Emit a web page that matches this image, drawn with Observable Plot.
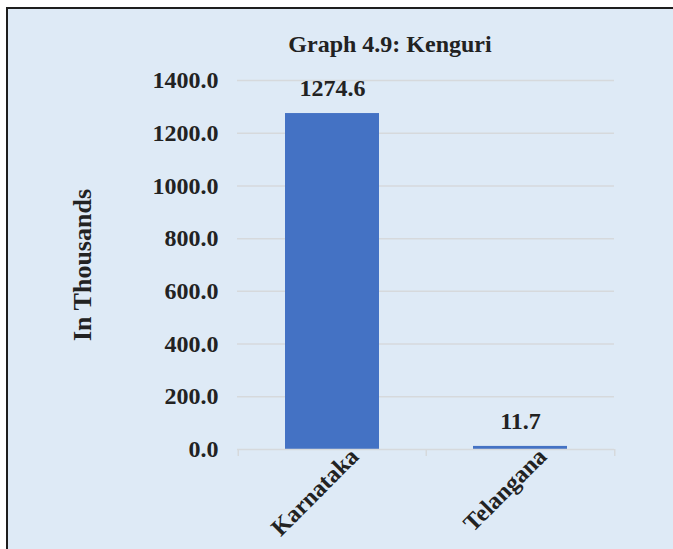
<!DOCTYPE html>
<html>
<head>
<meta charset="utf-8">
<script src="https://cdn.jsdelivr.net/npm/d3@7"></script>
<script src="https://cdn.jsdelivr.net/npm/@observablehq/plot@0.6"></script>
<style>
  html, body { margin: 0; padding: 0; background: #ffffff; overflow: hidden; width: 673px; height: 549px;
               font-family: 'Liberation Serif', serif; }
  #frame { position: absolute; left: 6px; top: 7px; width: 667px; height: 542px; background: #deeaf6;
           border-top: 2px solid #1e1e1e; border-left: 2px solid #1e1e1e; box-sizing: border-box; }
  #title { position: absolute; left: 190px; top: 32px; width: 400px; text-align: center;
           font-family: 'Liberation Serif', serif; font-weight: bold; font-size: 24px; line-height: 24px; color: #222; }
  #chart { position: absolute; left: 0; top: 60px; }
  #chart svg, #chart svg text { font-family: 'Liberation Serif', serif !important; }
</style>
</head>
<body>
<div id="frame"></div>
<div id="title">Graph 4.9: Kenguri</div>
<div id="chart"></div>
<script>
const categories = ["Karnataka", "Telangana"];
const values = [1274.6, 11.7];
const yTicks = [0, 200, 400, 600, 800, 1000, 1200, 1400];
const gridTicks = [200, 400, 600, 800, 1000, 1200, 1400];

const data = categories.map((c, i) => ({category: c, value: values[i]}));

const W = 673, H = 489, mL = 237, mR = 59;
const step = (W - mL - mR) / 2;

const chart = Plot.plot({
  width: W,
  height: H,
  marginTop: 20,
  marginBottom: 100,
  marginLeft: mL,
  marginRight: mR,
  style: {background: "transparent", fontFamily: "'Liberation Serif', serif", fontWeight: "bold", fontSize: "24px", color: "#222"},
  x: {domain: categories, paddingInner: 0.5, paddingOuter: 0.25},
  y: {domain: [0, 1400]},
  marks: [
    Plot.gridY(gridTicks, {stroke: "#d6d9dc", strokeOpacity: 1, strokeWidth: 1.5}),
    Plot.barY(data, {x: "category", y: "value", fill: "#4472c4"}),
    Plot.ruleY([0], {stroke: "#d6d9dc", strokeWidth: 1.5}),
    Plot.ruleX(categories, {x: d => d, y1: 0, y2: 0, insetBottom: -7, dx: -step / 2, stroke: "#d6d9dc", strokeWidth: 1.5}),
    Plot.ruleX(categories.slice(-1), {x: d => d, y1: 0, y2: 0, insetBottom: -7, dx: step / 2, stroke: "#d6d9dc", strokeWidth: 1.5}),
    Plot.text(data, {x: "category", y: "value", text: d => d.value.toFixed(1), dy: -25, fontSize: 24, fontWeight: "bold", fill: "#222"}),
    Plot.axisY(yTicks, {tickSize: 0, tickPadding: 19, tickFormat: d => d.toFixed(1), fontSize: 24, fontWeight: "bold", label: null}),
    Plot.axisY({ticks: [], tickSize: 0, fontSize: 26, fontWeight: "bold",
      label: "In Thousands", labelAnchor: "center", labelArrow: "none", labelOffset: 165, dy: -4}),
    Plot.axisX({tickSize: 0, tickRotate: -45, tickPadding: 3, dx: 22, fontSize: 24, fontWeight: "bold", label: null})
  ]
});
document.getElementById("chart").appendChild(chart);
</script>
</body>
</html>
